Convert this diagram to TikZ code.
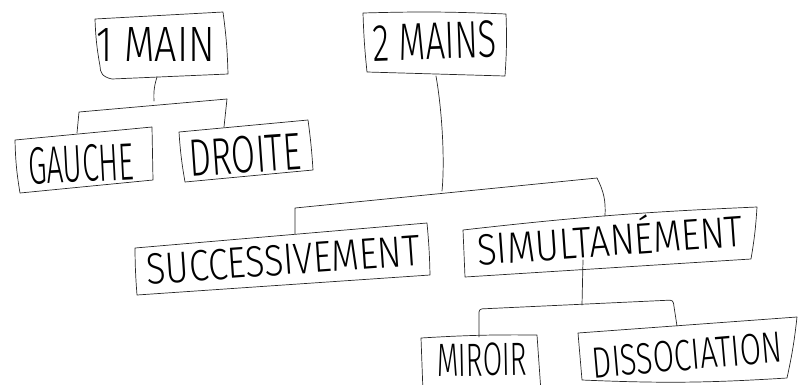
\documentclass[tikz,border=0pt]{standalone}
\usepackage{fontspec}
\usepackage{graphicx}
\setmainfont{Fira Sans Light}
% handwritten-looking label: text squeezed to a given width and cap height
\newcommand\handtext[3]{\resizebox{#1pt}{#2pt}{\raisebox{0pt}[\fontcharht\font`\E][0pt]{#3}}}
\tikzset{
  sketch/.style={draw=black!85, line width=0.7pt, line join=round, line cap=round},
  label/.style={inner sep=0pt, text=black}
}
\begin{document}
\begin{tikzpicture}[x=1pt,y=-1pt]
\useasboundingbox (0,0) rectangle (798,384);

% ---- box outlines (corners named) ----
% 1 MAIN
\coordinate (a1) at (95,19);  \coordinate (a2) at (223,12);
\coordinate (a3) at (228,74); \coordinate (a4) at (112,79);
\draw[sketch] (a1) -- (a2) to[bend left=3] (a3) -- (a4) .. controls (102,77) and (100,72) .. (100,66) to[bend left=4] (a1);
% 2 MAINS
\coordinate (b1) at (363,13);  \coordinate (b2) at (506,14);
\coordinate (b3) at (505,76);  \coordinate (b4) at (367,72);
\draw[sketch] (b1) to[bend left=2] (b2) to[bend left=3] (b3) -- (b4) to[bend left=2] (b1);
% GAUCHE
\coordinate (c1) at (15,140);  \coordinate (c2) at (152,127);
\coordinate (c3) at (153,180); \coordinate (c4) at (20,193);
\draw[sketch] (c1) -- (c2) -- (c3) -- (c4) to[bend left=4] (c1);
% DROITE
\coordinate (d1) at (179,132); \coordinate (d2) at (308,120);
\coordinate (d3) at (313,170); \coordinate (d4) at (185,182);
\draw[sketch] (d1) -- (d2) to[bend left=2] (d3) -- (d4) to[bend left=3] (d1);
% SUCCESSIVEMENT
\coordinate (e1) at (135,248); \coordinate (e2) at (427,223);
\coordinate (e3) at (430,275); \coordinate (e4) at (137,295);
\draw[sketch] (e1) -- (e2) to[bend left=2] (e3) -- (e4) to[bend left=2] (e1);
% SIMULTANEMENT
\coordinate (f1) at (463,230); \coordinate (f2) at (757,207);
\coordinate (f3) at (751,259); \coordinate (f4) at (465,277);
\draw[sketch] (f1) to[bend left=2] (f2) to[bend left=3] (f3) -- (f4) -- (f1);
% MIROIR (runs off the bottom)
\coordinate (g1) at (421,338); \coordinate (g2) at (537,335);
\coordinate (g3) at (541,392); \coordinate (g4) at (423,392);
\draw[sketch] (g4) -- (g1) to[bend left=2] (g2) -- (g3);
% DISSOCIATION
\coordinate (h1) at (578,333); \coordinate (h2) at (797,317);
\coordinate (h3) at (787,378); \coordinate (h4) at (582,380);
\draw[sketch] (h1) -- (h2) to[bend left=3] (h3) to[bend left=3] (h4) -- (h1);

% ---- labels ----
\node[label] (main1) at (156,44) {\handtext{118}{34}{1 MAIN}};
\node[label,rotate=2] (main2) at (435,41) {\handtext{124}{36}{2 MAINS}};
\node[label,rotate=3] (gauche) at (81,164) {\handtext{106}{36}{GAUCHE}};
\node[label,rotate=4] (droite) at (245,155) {\handtext{112}{36}{DROITE}};
\node[label,rotate=4] (succ) at (283,260) {\handtext{274}{30}{SUCCESSIVEMENT}};
\node[label,rotate=4] (simul) at (610,241) {\handtext{266}{30}{SIMULTANÉMENT}};
\node[label,rotate=1] (miroir) at (482,360) {\handtext{90}{32}{MIROIR}};
\node[label,rotate=5] (dissoc) at (687,355) {\handtext{190}{30}{DISSOCIATION}};

% ---- tree connectors ----
% under 1 MAIN
\coordinate (p1) at (157,77);  \coordinate (j1) at (154,101);
\coordinate (l1) at (79,112);  \coordinate (r1) at (227,99);
\coordinate (lg1) at (77,133); \coordinate (rg1) at (224,127);
\draw[sketch] (p1) to[bend right=10] (j1);
\draw[sketch] (lg1) -- (l1) -- (r1) -- (rg1);
% under 2 MAINS
\coordinate (p2) at (436,76);  \coordinate (j2) at (442,191);
\coordinate (l2) at (295,208); \coordinate (r2) at (597,178);
\coordinate (lg2) at (295,234); \coordinate (rg2) at (605,216);
\draw[sketch] (p2) .. controls (442,110) and (445,160) .. (j2);
\draw[sketch] (lg2) -- (l2) -- (r2) to[bend left=15] (rg2);
% under SIMULTANEMENT
\coordinate (p3) at (583,260); \coordinate (j3) at (582,305);
\coordinate (l3) at (479,309); \coordinate (r3) at (673,300);
\coordinate (lg3) at (479,337); \coordinate (rg3) at (677,326);
\draw[sketch] (p3) -- (j3);
\draw[sketch, rounded corners=3pt] (lg3) -- (l3) -- (r3) -- (rg3);
\end{tikzpicture}
\end{document}
